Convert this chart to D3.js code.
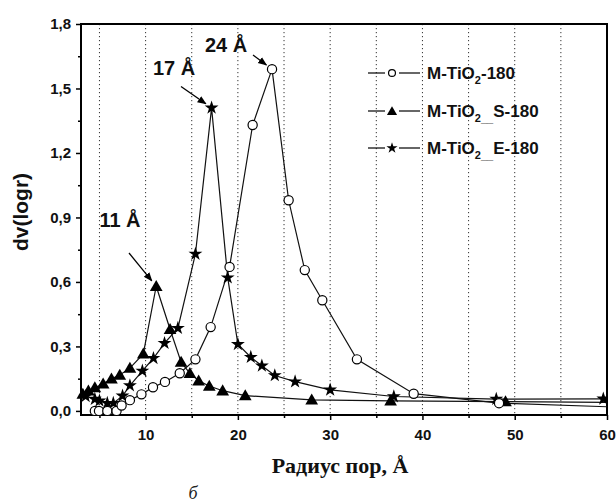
<!DOCTYPE html>
<html>
<head>
<meta charset="utf-8">
<script src="https://cdn.jsdelivr.net/npm/d3@7"></script>
<style>
  html, body { margin: 0; padding: 0; background: #fff; }
  svg { display: block; }
</style>
</head>
<body>
<svg id="chart" width="616" height="504"></svg>
<script>
// Pore size distribution, dv(logr) vs pore radius (Å)
const poreTiO2 = [
  [4.5, 0], [4.95, 0], [5.85, 0], [6.85, 0], [7.4, 0.025], [8.3, 0.05],
  [9.55, 0.077], [10.8, 0.11], [12.1, 0.135], [13.7, 0.175], [15.4, 0.24],
  [17.05, 0.39], [19.1, 0.67], [21.6, 1.33], [23.7, 1.59], [25.5, 0.98],
  [27.25, 0.655], [29.15, 0.515], [32.9, 0.24], [39.05, 0.08], [48.3, 0.036],
  [61, 0.018]
];
const poreTiO2S = [
  [3.2, 0.078], [3.8, 0.093], [4.5, 0.108], [5.4, 0.126], [6.3, 0.149],
  [7.2, 0.167], [8.3, 0.199], [9.75, 0.265], [11.15, 0.58], [12.65, 0.38],
  [13.85, 0.227], [14.8, 0.175], [15.75, 0.14], [16.9, 0.116], [18.35, 0.094],
  [20.8, 0.071], [28.0, 0.051], [36.55, 0.047], [49.0, 0.043], [61, 0.039]
];
const poreTiO2E = [
  [3.5, 0.068], [4.5, 0.055], [5.0, 0.047], [5.85, 0.036], [6.5, 0.036],
  [7.5, 0.07], [8.3, 0.118], [9.65, 0.186], [10.85, 0.245], [12.05, 0.315],
  [13.5, 0.385], [15.4, 0.73], [17.15, 1.41], [18.9, 0.62], [20.0, 0.31],
  [21.4, 0.25], [22.6, 0.21], [24.0, 0.165], [26.2, 0.136], [30.0, 0.098],
  [36.9, 0.067], [48.0, 0.055], [59.6, 0.056]
];
const xTicks = [10, 20, 30, 40, 50, 60];
const xMinorTicks = [5, 15, 25, 35, 45, 55];
const yTicks = [0, 0.3, 0.6, 0.9, 1.2, 1.5, 1.8];
const yMinorTicks = [0.15, 0.45, 0.75, 1.05, 1.35, 1.65];
const gridValues = [5, 10, 15, 20, 25, 30, 35, 40, 45, 50, 55];
const peakNotes = [
  { text: "24 Å", series: 0, x: 23.7, y: 1.59 },
  { text: "17 Å", series: 2, x: 17.15, y: 1.41 },
  { text: "11 Å", series: 1, x: 11.15, y: 0.58 }
];

const SANS = "'Liberation Sans', Arial, Helvetica, sans-serif";
const SERIF = "'Liberation Serif', 'Times New Roman', serif";

const svg = d3.select("#chart");
const L = 81, R = 607, T = 24, B = 415;
const x = d3.scaleLinear().domain([3, 60]).range([L, R]);
const y = d3.scaleLinear().domain([-0.019, 1.8]).range([B, T]);

// vertical dotted grid
svg.append("g").selectAll("line").data(gridValues).join("line")
  .attr("x1", d => x(d)).attr("x2", d => x(d))
  .attr("y1", T).attr("y2", B)
  .attr("stroke", "#333").attr("stroke-width", 1)
  .attr("stroke-dasharray", "1.2,2.8");

// clip for series
svg.append("defs").append("clipPath").attr("id", "plotClip")
  .append("rect").attr("x", L - 12).attr("y", T - 10)
  .attr("width", R - L + 12).attr("height", B - T + 20);

const fmt = d => d3.format(".1f")(d).replace(".", ",");

// axes
svg.append("g").attr("transform", `translate(0,${B})`)
  .call(d3.axisBottom(x).tickValues(xTicks).tickSize(5).tickPadding(9).tickFormat(d3.format("d")));
svg.append("g").attr("transform", `translate(0,${B})`)
  .call(d3.axisBottom(x).tickValues(xMinorTicks).tickSize(3).tickFormat(""));
svg.append("g").attr("transform", `translate(${L},0)`)
  .call(d3.axisLeft(y).tickValues(yTicks).tickSize(5).tickPadding(5).tickFormat(fmt));
svg.append("g").attr("transform", `translate(${L},0)`)
  .call(d3.axisLeft(y).tickValues(yMinorTicks).tickSize(3).tickFormat(""));

svg.selectAll(".domain").remove();
svg.selectAll(".tick line").attr("stroke", "#000").attr("stroke-width", 1.5);
svg.selectAll(".tick text").attr("fill", "#111")
  .style("font-family", SANS).style("font-weight", "bold").style("font-size", "15px");

// frame
svg.append("rect").attr("x", L).attr("y", T).attr("width", R - L).attr("height", B - T)
  .attr("fill", "none").attr("stroke", "#000").attr("stroke-width", 2);

// markers
const starPath = d3.symbol().type(d3.symbolStar).size(60)();
const triPath = d3.symbol().type(d3.symbolTriangle).size(70)();
function drawMarker(g, kind, cx, cy, scale) {
  const s = scale || 1;
  if (kind === "circle") {
    g.append("circle").attr("cx", cx).attr("cy", cy).attr("r", 4.6 * s)
      .attr("fill", "#fff").attr("stroke", "#000").attr("stroke-width", 1.2);
  } else if (kind === "triangle") {
    g.append("path").attr("d", triPath)
      .attr("transform", `translate(${cx},${cy + 1}) scale(${s})`).attr("fill", "#000");
  } else {
    g.append("path").attr("d", starPath)
      .attr("transform", `translate(${cx},${cy}) scale(${s})`).attr("fill", "#000");
  }
}

const series = [
  { name: "TiO2", data: poreTiO2, marker: "circle", suffix: "-180" },
  { name: "TiO2S", data: poreTiO2S, marker: "triangle", suffix: "_S-180" },
  { name: "TiO2E", data: poreTiO2E, marker: "star", suffix: "_E-180" }
];

const plot = svg.append("g").attr("clip-path", "url(#plotClip)");
const line = d3.line().x(d => x(d[0])).y(d => y(d[1]));
series.forEach(s => {
  plot.append("path").datum(s.data).attr("d", line)
    .attr("fill", "none").attr("stroke", "#111").attr("stroke-width", 1.2);
});
[1, 2, 0].forEach(i => {
  const s = series[i];
  const g = plot.append("g");
  s.data.filter(d => d[0] <= 60).forEach(d => drawMarker(g, s.marker, x(d[0]), y(d[1])));
});

// legend
const legend = svg.append("g");
const legendRows = [73, 111, 148];
series.forEach((s, i) => {
  const cy = legendRows[i];
  legend.append("line").attr("x1", 368).attr("x2", 385).attr("y1", cy).attr("y2", cy)
    .attr("stroke", "#000").attr("stroke-width", 1.2);
  legend.append("line").attr("x1", 399).attr("x2", 420).attr("y1", cy).attr("y2", cy)
    .attr("stroke", "#000").attr("stroke-width", 1.2);
  drawMarker(legend, s.marker, 392, cy, s.marker === "circle" ? 0.75 : 0.8);
  const t = legend.append("text").attr("x", 427).attr("y", cy + 6)
    .style("font-family", SANS).style("font-weight", "bold").style("font-size", "17px")
    .attr("fill", "#111");
  t.append("tspan").text("M-TiO");
  if (s.suffix === "-180") {
    t.append("tspan").attr("dy", 5).style("font-size", "11px").text("2");
    t.append("tspan").attr("dy", -5).text("-180");
  } else {
    t.append("tspan").attr("dy", 5).style("font-size", "11px").text("2");
    t.append("tspan").attr("dy", 0).style("font-size", "11px").text("__");
    t.append("tspan").attr("dy", -5).text(s.suffix.slice(1));
  }
});

// peak annotations with arrows
svg.append("defs").append("marker").attr("id", "arrowHead")
  .attr("viewBox", "0 0 10 10").attr("refX", 9).attr("refY", 5)
  .attr("markerWidth", 7).attr("markerHeight", 7).attr("orient", "auto")
  .append("path").attr("d", "M0,1 L10,5 L0,9 Z").attr("fill", "#000");

const notePos = [
  { tx: 226, ty: 52, ax1: 253, ay1: 55 },
  { tx: 174, ty: 75, ax1: 181, ay1: 86.5 },
  { tx: 120, ty: 227, ax1: 129, ay1: 253 }
];
peakNotes.forEach((n, i) => {
  const p = notePos[i];
  const px = x(n.x), py = y(n.y);
  const dx = px - p.ax1, dy = py - p.ay1, len = Math.hypot(dx, dy);
  const gap = 7;
  svg.append("line").attr("x1", p.ax1).attr("y1", p.ay1)
    .attr("x2", px - dx / len * gap).attr("y2", py - dy / len * gap)
    .attr("stroke", "#000").attr("stroke-width", 1.3).attr("marker-end", "url(#arrowHead)");
  svg.append("text").attr("x", p.tx).attr("y", p.ty).attr("text-anchor", "middle")
    .style("font-family", SANS).style("font-weight", "bold").style("font-size", "20px")
    .attr("fill", "#111").text(n.text);
});

// axis titles
svg.append("text").attr("x", 340).attr("y", 473).attr("text-anchor", "middle")
  .style("font-family", SERIF).style("font-weight", "bold").style("font-size", "22px")
  .attr("fill", "#111").text("Радиус пор, Å");
svg.append("text").attr("transform", `translate(28,212) rotate(-90)`).attr("text-anchor", "middle")
  .style("font-family", SANS).style("font-weight", "bold").style("font-size", "21px")
  .attr("fill", "#111").text("dv(logr)");
svg.append("text").attr("x", 193).attr("y", 499).attr("text-anchor", "middle")
  .style("font-family", SERIF).style("font-style", "italic").style("font-size", "18px")
  .attr("fill", "#222").text("б");
</script>
</body>
</html>
